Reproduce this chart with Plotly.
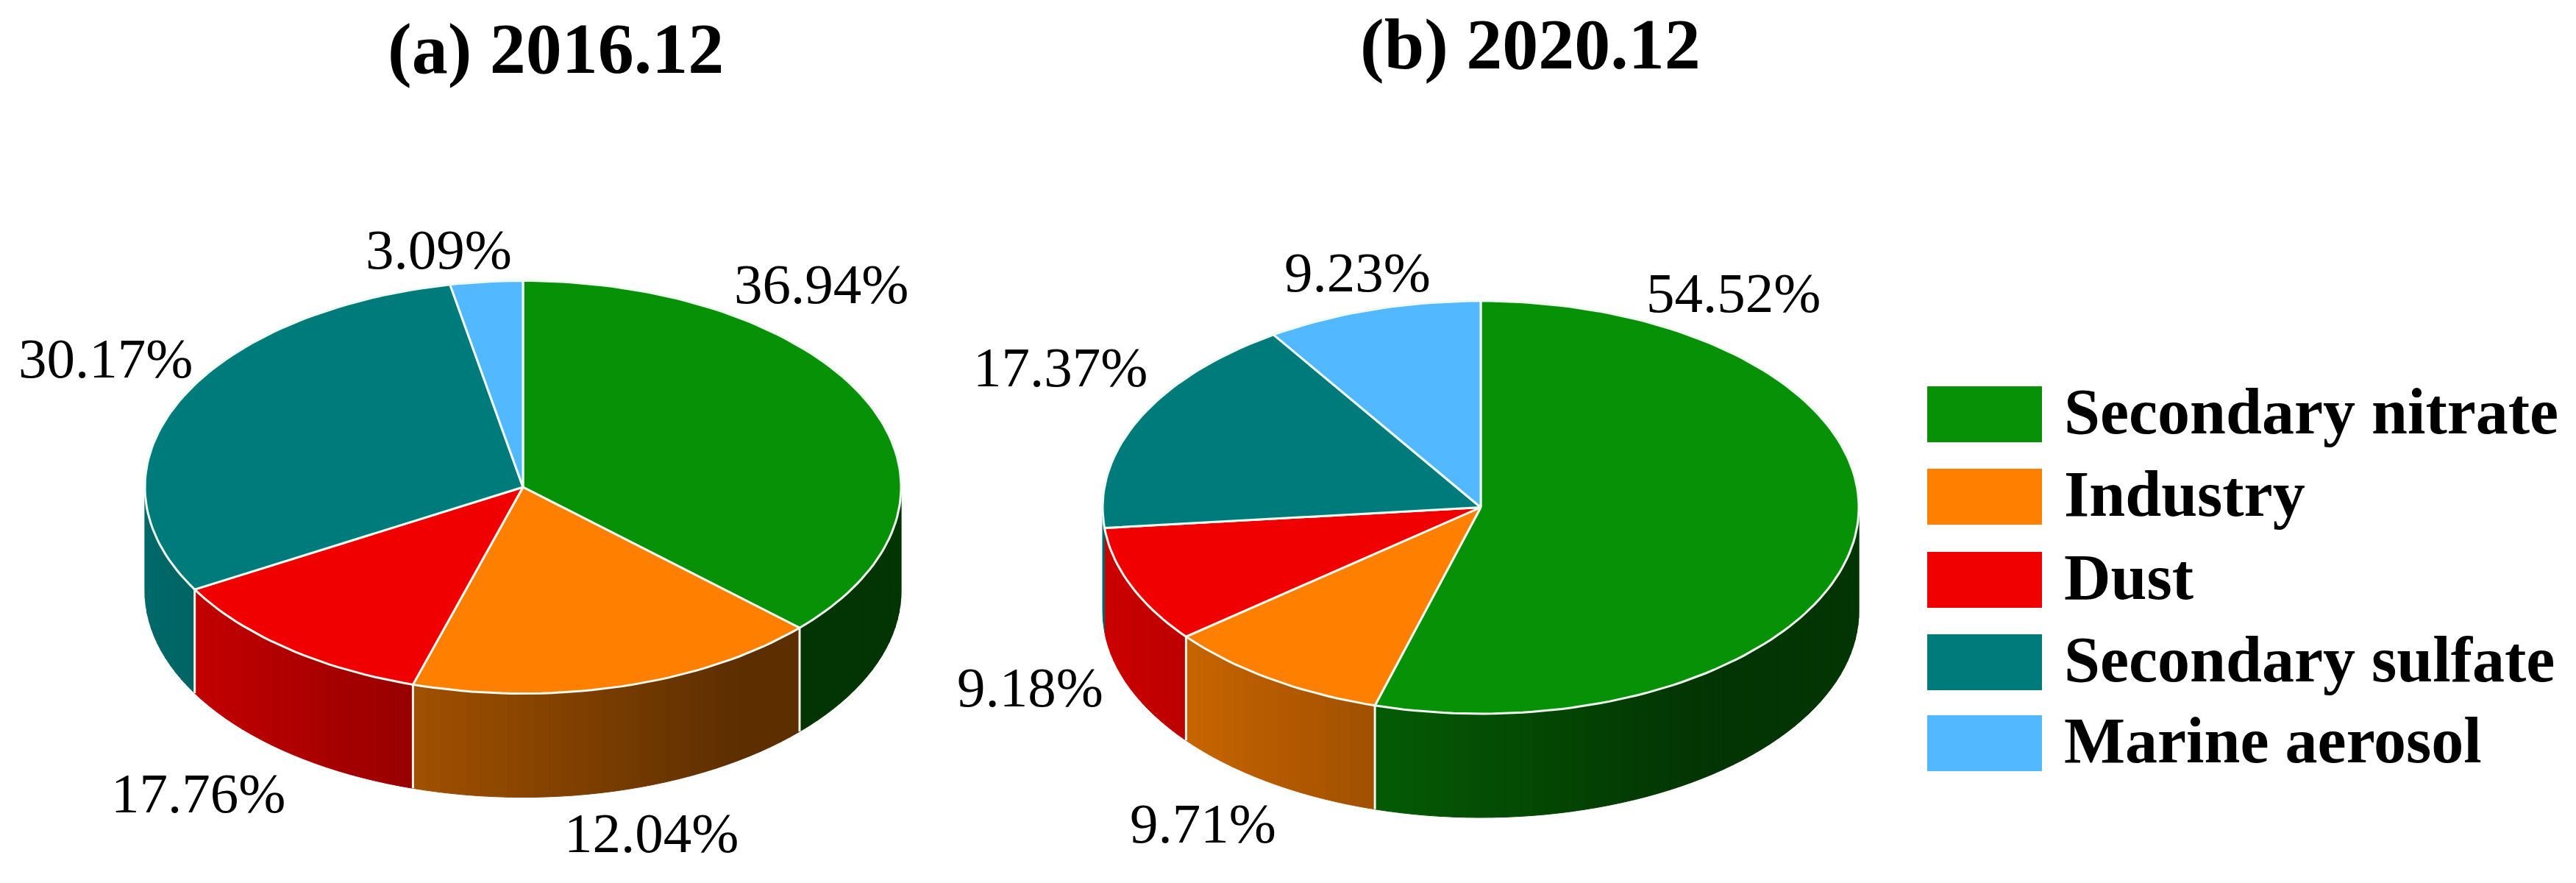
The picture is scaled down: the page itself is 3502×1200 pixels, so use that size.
import math
import plotly.graph_objects as go

# ---- data ----
categories = ["Secondary nitrate", "Industry", "Dust", "Secondary sulfate", "Marine aerosol"]
values_2016 = [36.94, 17.76, 12.04, 30.17, 3.09]
values_2020 = [54.52, 9.71, 9.18, 17.37, 9.23]
titles = ["(a) 2016.12", "(b) 2020.12"]

# ---- styles and layout ----
W, H = 3502, 1200
colors = [(7, 145, 7), (255, 128, 0), (240, 0, 0), (0, 123, 123), (82, 184, 255)]
FONT = "Liberation Serif"
RX, RY, DEPTH = 514, 280.5, 141
centers = [(711, 662), (2013, 689.5)]
title_pos = [(755, 66), (2080, 60)]
label_pos = [
    [(1116, 386), (269, 1078), (885, 1132), (143, 487), (596, 339)],
    [(2356, 398), (1635, 1119), (1400, 934), (1441, 499), (1845, 370)],
]
legend_rows = [563, 675, 788, 900, 1010]


def rgb(c, k=1.0):
    return "rgb(%d,%d,%d)" % tuple(round(v * k) for v in c)


def shade(u):
    return max(0.36, 0.85 - 0.62 * u)


def point(center, theta, drop=0.0, frac=1.0):
    s, co = math.sin(math.radians(theta)), math.cos(math.radians(theta))
    return center[0] + RX * frac * s, center[1] - RY * frac * co + drop


fig = go.Figure()


def add_poly(pts, fill, line=None, width=0, name=""):
    fig.add_trace(go.Scatter(
        x=[p[0] for p in pts] + [pts[0][0]],
        y=[p[1] for p in pts] + [pts[0][1]],
        mode="lines", fill="toself", fillcolor=fill,
        line=dict(color=line or fill, width=width if line else 1),
        hoverinfo="skip", name=name, showlegend=False,
    ))


for center, values in zip(centers, [values_2016, values_2020]):
    total = sum(values)
    edges = [0.0]
    for v in values:
        edges.append(edges[-1] + 360.0 * v / total)
    # side wall: only the front half of the disc is visible
    for i, col in enumerate(colors):
        a0, a1 = max(edges[i], 90.0), min(edges[i + 1], 270.0)
        if a1 <= a0:
            continue
        n = max(1, int((a1 - a0) / 2))
        for j in range(n):
            t0 = a0 + (a1 - a0) * j / n
            t1 = a0 + (a1 - a0) * (j + 1) / n
            u = (math.sin(math.radians((t0 + t1) / 2)) + 1) / 2
            add_poly([point(center, t0), point(center, t1),
                      point(center, t1, DEPTH), point(center, t0, DEPTH)],
                     rgb(col, shade(u)), name=categories[i])
    # white edges between wall sections
    for e in edges[1:-1]:
        if 90 < e < 260:
            p, q = point(center, e), point(center, e, DEPTH)
            fig.add_trace(go.Scatter(x=[p[0], q[0]], y=[p[1], q[1]], mode="lines",
                                     line=dict(color="rgb(245,245,235)", width=3),
                                     hoverinfo="skip", showlegend=False))
    # top face
    for i, col in enumerate(colors):
        n = max(2, int((edges[i + 1] - edges[i]) / 1.5))
        pts = [center]
        pts += [point(center, edges[i] + (edges[i + 1] - edges[i]) * j / n) for j in range(n + 1)]
        add_poly(pts, rgb(col), line="rgb(240,250,240)", width=3, name=categories[i])

annotations = []
for (x, y), t in zip(title_pos, titles):
    annotations.append(dict(x=x, y=y, text="<b>%s</b>" % t, showarrow=False, xanchor="center",
                            yanchor="middle", borderpad=0,
                            font=dict(family=FONT, size=98, color="black")))
for positions, values in zip(label_pos, [values_2016, values_2020]):
    for (x, y), v in zip(positions, values):
        annotations.append(dict(x=x, y=y, text="%.2f%%" % v, showarrow=False, xanchor="center",
                                yanchor="middle", borderpad=0,
                                font=dict(family=FONT, size=77, color="black")))

shapes = []
for yc, name, col in zip(legend_rows, categories, colors):
    shapes.append(dict(type="rect", x0=2620, x1=2776, y0=yc - 38, y1=yc + 38,
                       fillcolor=rgb(col), line=dict(width=0)))
    annotations.append(dict(x=2805, y=yc - 4, text="<b>%s</b>" % name, showarrow=False,
                            xanchor="left", yanchor="middle", borderpad=0,
                            font=dict(family=FONT, size=88, color="black")))

fig.update_layout(
    width=W, height=H, margin=dict(l=0, r=0, t=0, b=0),
    paper_bgcolor="white", plot_bgcolor="white", showlegend=False,
    xaxis=dict(range=[0, W], visible=False, fixedrange=True),
    yaxis=dict(range=[H, 0], visible=False, fixedrange=True),
    annotations=annotations, shapes=shapes,
)
fig.write_html("out.html", config={"displayModeBar": False},
               post_script="document.body.style.margin='0';document.documentElement.style.overflow='hidden';")
